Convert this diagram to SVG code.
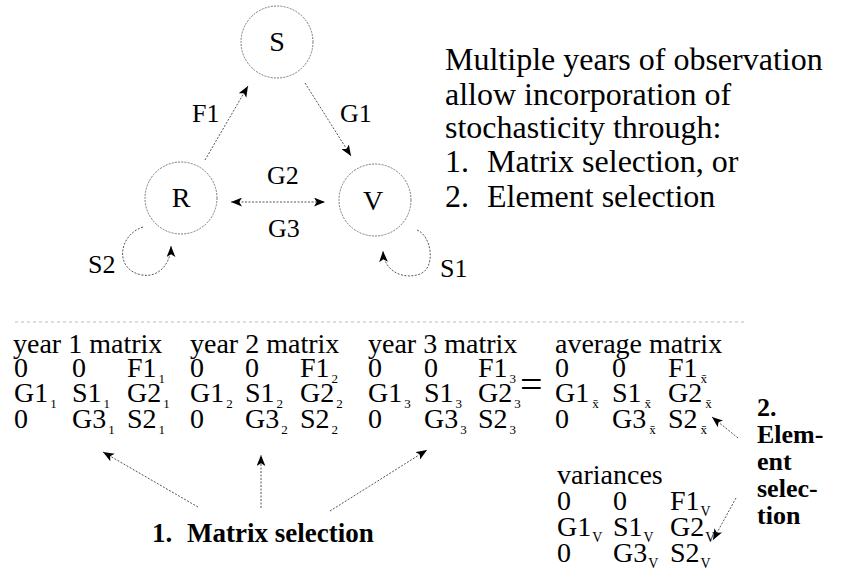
<svg xmlns="http://www.w3.org/2000/svg" width="853" height="580" viewBox="0 0 853 580" font-family="'Liberation Serif', 'Times New Roman', serif">
<defs>
<style>
text{font-family:'Liberation Serif','Times New Roman',serif;fill:#000}
.node{fill:none;stroke:#777;stroke-width:1;stroke-dasharray:2 1.2}
.lbl{font-size:28px}
.el{font-size:26px}
.big{font-size:32px}
.m{font-size:28px}
.s{font-size:13px}
.sv{font-size:14px}
.b{font-weight:bold}
.con{fill:none;stroke:#555;stroke-width:1;stroke-dasharray:2 1.5}
</style>
<marker id="ah" viewBox="0 0 10 8" refX="10" refY="4" markerWidth="11" markerHeight="9" markerUnits="userSpaceOnUse" orient="auto-start-reverse">
<path d="M0,0 L10,4 L0,8 L2.5,4 z" fill="#000"/>
</marker>
</defs>
<rect width="853" height="580" fill="#fff"/>

<g id="node-S"><circle class="node" cx="277" cy="42" r="36"/><text class="lbl" x="277" y="51" text-anchor="middle">S</text></g>
<g id="node-R"><circle class="node" cx="181" cy="198" r="36"/><text class="lbl" x="181" y="207" text-anchor="middle">R</text></g>
<g id="node-V"><circle class="node" cx="375" cy="200" r="36"/><text class="lbl" x="373" y="210" text-anchor="middle">V</text></g>

<g id="connectors">
<path class="con" d="M205,160 L248,86" marker-end="url(#ah)"/>
<path class="con" d="M305,83 L351,156" marker-end="url(#ah)"/>
<path class="con" d="M231,202 L325,202" marker-start="url(#ah)" marker-end="url(#ah)"/>
<path class="con" d="M143,227 C118,235 114,270 142,275 C160,278 171,262 171,246" marker-end="url(#ah)"/>
<path class="con" d="M417,230 C432,236 436,268 420,274 C404,280 384,272 383,251" marker-end="url(#ah)"/>
<path class="con" d="M198,507 L103,452" marker-end="url(#ah)"/>
<path class="con" d="M261,508 L261,455" marker-end="url(#ah)"/>
<path class="con" d="M330,511 L427,450" marker-end="url(#ah)"/>
<path class="con" d="M738,438 L712,417" marker-end="url(#ah)"/>
<path class="con" d="M736,498 L713,540" marker-end="url(#ah)"/>
<line x1="15" y1="322" x2="745" y2="322" stroke="#bbb" stroke-width="1" stroke-dasharray="3 3"/>
</g>

<g id="edge-labels">
<text class="el" x="192" y="122">F1</text>
<text class="el" x="340" y="122">G1</text>
<text class="el" x="267" y="184">G2</text>
<text class="el" x="268" y="237">G3</text>
<text class="el" x="88" y="273">S2</text>
<text class="el" x="440" y="277">S1</text>
</g>

<g id="description">
<text class="big" x="445" y="70">Multiple years of observation</text>
<text class="big" x="445" y="105">allow incorporation of</text>
<text class="big" x="445" y="138">stochasticity through:</text>
<text class="big" x="445" y="172">1.</text><text class="big" x="487" y="172">Matrix selection, or</text>
<text class="big" x="445" y="207">2.</text><text class="big" x="487" y="207">Element selection</text>
</g>

<g id="year1">
<text class="m" x="13" y="353">year 1 matrix</text>
<text class="m" x="14" y="377">0</text>
<text class="m" x="72" y="377">0</text>
<text class="m" x="127" y="377">F1<tspan class="s" dx="2" dy="6">1</tspan></text>
<text class="m" x="14" y="402">G1<tspan class="s" dx="2" dy="6">1</tspan></text>
<text class="m" x="72" y="402">S1<tspan class="s" dx="2" dy="6">1</tspan></text>
<text class="m" x="127" y="402">G2<tspan class="s" dx="2" dy="6">1</tspan></text>
<text class="m" x="14" y="428">0</text>
<text class="m" x="72" y="428">G3<tspan class="s" dx="2" dy="6">1</tspan></text>
<text class="m" x="127" y="428">S2<tspan class="s" dx="2" dy="6">1</tspan></text>
</g>

<g id="year2">
<text class="m" x="190" y="353">year 2 matrix</text>
<text class="m" x="190" y="377">0</text>
<text class="m" x="245" y="377">0</text>
<text class="m" x="300" y="377">F1<tspan class="s" dx="2" dy="6">2</tspan></text>
<text class="m" x="190" y="402">G1<tspan class="s" dx="2" dy="6">2</tspan></text>
<text class="m" x="245" y="402">S1<tspan class="s" dx="2" dy="6">2</tspan></text>
<text class="m" x="300" y="402">G2<tspan class="s" dx="2" dy="6">2</tspan></text>
<text class="m" x="190" y="428">0</text>
<text class="m" x="245" y="428">G3<tspan class="s" dx="2" dy="6">2</tspan></text>
<text class="m" x="300" y="428">S2<tspan class="s" dx="2" dy="6">2</tspan></text>
</g>

<g id="year3">
<text class="m" x="368" y="353">year 3 matrix</text>
<text class="m" x="368" y="377">0</text>
<text class="m" x="424" y="377">0</text>
<text class="m" x="478" y="377">F1<tspan class="s" dx="2" dy="6">3</tspan></text>
<text class="m" x="368" y="402">G1<tspan class="s" dx="2" dy="6">3</tspan></text>
<text class="m" x="424" y="402">S1<tspan class="s" dx="2" dy="6">3</tspan></text>
<text class="m" x="478" y="402">G2<tspan class="s" dx="2" dy="6">3</tspan></text>
<text class="m" x="368" y="428">0</text>
<text class="m" x="424" y="428">G3<tspan class="s" dx="2" dy="6">3</tspan></text>
<text class="m" x="478" y="428">S2<tspan class="s" dx="2" dy="6">3</tspan></text>
</g>

<g id="equals"><text x="520" y="398" font-size="40">=</text></g>

<g id="average">
<text class="m" x="555" y="353">average matrix</text>
<text class="m" x="555" y="377">0</text>
<text class="m" x="612" y="377">0</text>
<text class="m" x="668" y="377">F1<tspan class="s" dx="3" dy="6">x̄</tspan></text>
<text class="m" x="555" y="402">G1<tspan class="s" dx="3" dy="6">x̄</tspan></text>
<text class="m" x="612" y="402">S1<tspan class="s" dx="3" dy="6">x̄</tspan></text>
<text class="m" x="668" y="402">G2<tspan class="s" dx="3" dy="6">x̄</tspan></text>
<text class="m" x="555" y="428">0</text>
<text class="m" x="612" y="428">G3<tspan class="s" dx="3" dy="6">x̄</tspan></text>
<text class="m" x="668" y="428">S2<tspan class="s" dx="3" dy="6">x̄</tspan></text>
</g>

<g id="variances">
<text class="m" x="557" y="484">variances</text>
<text class="m" x="557" y="510">0</text>
<text class="m" x="613" y="510">0</text>
<text class="m" x="670" y="510">F1<tspan class="sv" dx="1" dy="6">V</tspan></text>
<text class="m" x="557" y="536">G1<tspan class="sv" dx="1" dy="6">V</tspan></text>
<text class="m" x="613" y="536">S1<tspan class="sv" dx="1" dy="6">V</tspan></text>
<text class="m" x="670" y="536">G2<tspan class="sv" dx="1" dy="6">V</tspan></text>
<text class="m" x="557" y="562">0</text>
<text class="m" x="613" y="562">G3<tspan class="sv" dx="1" dy="6">V</tspan></text>
<text class="m" x="670" y="562">S2<tspan class="sv" dx="1" dy="6">V</tspan></text>
</g>

<g id="matrix-selection-label">
<text class="b" font-size="27" x="152" y="542">1.</text>
<text class="b" font-size="27" x="187" y="542">Matrix selection</text>
</g>

<g id="element-selection-label">
<text class="b" font-size="26" x="757" y="416">2.</text>
<text class="b" font-size="26" x="757" y="443">Elem-</text>
<text class="b" font-size="26" x="757" y="470">ent</text>
<text class="b" font-size="26" x="757" y="497">selec-</text>
<text class="b" font-size="26" x="757" y="524">tion</text>
</g>
</svg>
